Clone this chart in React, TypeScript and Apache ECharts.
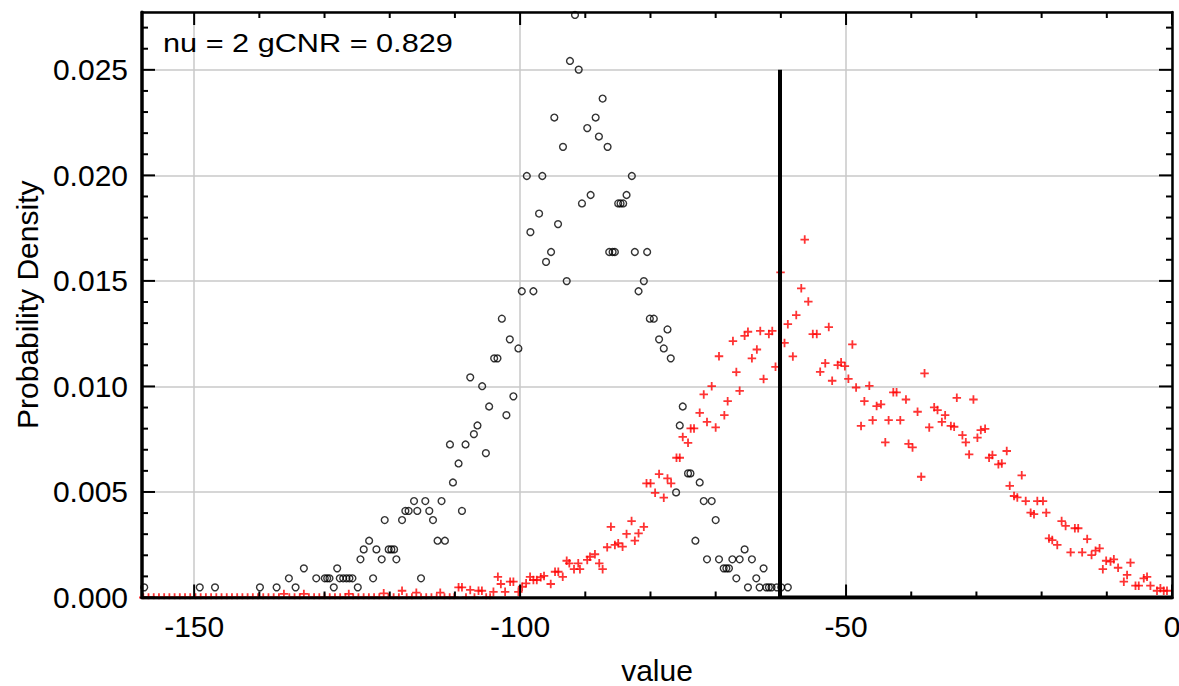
import React, { useEffect, useRef } from "react";
import * as echarts from "echarts";

// ---- axis ranges & ticks ----
const xMin = -158;
const xMax = 0;
const yMin = 0;
const yMax = 0.02774;
const xMajor = [-150, -100, -50, 0];
const xMinor = [-150, -140, -130, -120, -110, -100, -90, -80, -70, -60, -50, -40, -30, -20, -10, 0];
const yMajor = [0, 0.005, 0.01, 0.015, 0.02, 0.025];
const yMinor = [0, 0.001, 0.002, 0.003, 0.004, 0.005, 0.006, 0.007, 0.008, 0.009, 0.01, 0.011, 0.012, 0.013, 0.014, 0.015, 0.016, 0.017, 0.018, 0.019, 0.02, 0.021, 0.022, 0.023, 0.024, 0.025, 0.026, 0.027];

const annotation = "nu = 2 gCNR = 0.829";
const xName = "value";
const yName = "Probability Density";

// threshold line
const thresholdX = -60.13;
const thresholdTop = 0.025;

// ---- black circles (first distribution) ----
const blackX = [
  -157.66, -149.14, -146.8, -139.91, -137.35, -135.47, -134.44, -133.17, -131.27, -129.96,
  -129.59, -129.24, -128.58, -128.06, -127.66, -127.14, -126.63, -126.18, -125.72, -124.9,
  -124.49, -123.99, -123.16, -122.55, -122.04, -121.23, -120.77, -120.16, -119.75, -119.33,
  -118.98, -118.11, -117.6, -117.1, -116.27, -115.77, -115.2, -114.54, -113.93, -113.36,
  -112.66, -112.05, -111.53, -110.76, -110.3, -109.44, -108.92, -108.37, -107.65, -107.09,
  -106.54, -105.82, -105.25, -104.75, -103.98, -103.47, -102.8, -102.1, -101.58, -101.03,
  -100.26, -99.74, -98.97, -98.42, -97.96, -97.09, -96.59, -96.02, -95.25, -94.75,
  -94.18, -93.42, -92.85, -92.35, -91.58, -91.01, -90.51, -89.7, -89.18, -88.41,
  -87.91, -87.34, -86.58, -86.33, -85.81, -85.46, -84.95, -84.59, -84.19, -83.67,
  -82.86, -82.4, -81.83, -81.02, -80.51, -80.1, -79.49, -78.68, -77.96, -77.39,
  -76.89, -76.07, -75.51, -75.05, -74.24, -73.87, -73.11, -72.45, -71.83, -71.33,
  -70.61, -70.0, -69.49, -68.77, -68.36, -67.96, -67.44, -66.83, -66.32, -65.56,
  -65.05, -64.44, -63.77, -63.26, -62.65, -62.24, -61.84, -61.43, -60.62, -59.94,
  -58.93,
];
const blackY = [
  0.00048, 0.00048, 0.00048, 0.00048, 0.00048, 0.00091, 0.00048, 0.00138, 0.00091, 0.00091,
  0.00091, 0.00091, 0.00048, 0.00138, 0.00091, 0.00091, 0.00091, 0.00091, 0.00091, 0.00048,
  0.00181, 0.00228, 0.00269, 0.00091, 0.00228, 0.00181, 0.00367, 0.00228, 0.00228, 0.00228,
  0.00181, 0.00367, 0.0041, 0.0041, 0.00457, 0.0041, 0.00091, 0.00457, 0.0041, 0.00367,
  0.00269, 0.00457, 0.00269, 0.00725, 0.00545, 0.00635, 0.0041, 0.00725, 0.01043, 0.00774,
  0.00815, 0.01001, 0.00684, 0.00905, 0.01133, 0.01133, 0.01321, 0.00864, 0.01223, 0.00953,
  0.0118, 0.01451, 0.01997, 0.01731, 0.01451, 0.01819, 0.01997, 0.0159, 0.01637, 0.02274,
  0.01769, 0.02135, 0.01499, 0.02542, 0.0276, 0.02501, 0.01867, 0.02224, 0.01907, 0.02274,
  0.02184, 0.02364, 0.02135, 0.01637, 0.01637, 0.01637, 0.01867, 0.01867, 0.01867, 0.01907,
  0.01997, 0.01637, 0.01451, 0.01499, 0.01637, 0.01321, 0.01321, 0.01223, 0.0118, 0.0127,
  0.01133, 0.00498, 0.00815, 0.00905, 0.00588, 0.00588, 0.00269, 0.00545, 0.00457, 0.00181,
  0.00457, 0.00367, 0.00181, 0.00138, 0.00138, 0.00138, 0.00181, 0.00091, 0.00181, 0.00228,
  0.00048, 0.00181, 0.00091, 0.00048, 0.00138, 0.00048, 0.00048, 0.00048, 0.00048, 0.00048,
  0.00048,
];

// ---- red crosses (second distribution) ----
const redX = [
  -157.8, -157.0, -156.2, -155.4, -154.6, -153.8, -153.0, -152.2, -151.4, -150.6,
  -149.8, -149.0, -148.2, -147.4, -146.6, -145.8, -145.0, -144.2, -143.4, -142.6,
  -141.8, -141.0, -140.2, -139.4, -138.6, -137.8, -137.0, -136.23, -135.4, -134.6,
  -133.8, -133.17, -132.4, -131.6, -130.8, -130.0, -129.2, -128.4, -127.6, -126.8,
  -126.28, -125.6, -124.8, -124.0, -123.2, -122.4, -121.6, -120.92, -120.2, -119.4,
  -118.6, -118.11, -117.4, -116.6, -115.92, -115.2, -114.4, -113.6, -112.8, -112.25,
  -111.6, -110.8, -110.1, -109.44, -108.92, -108.3, -107.65, -107.0, -106.38, -105.86,
  -105.2, -104.6, -104.09, -103.41, -102.95, -102.3, -101.53, -101.03, -100.26, -99.69,
  -99.08, -98.47, -97.96, -97.44, -96.83, -96.33, -95.3, -94.64, -94.14, -93.46,
  -92.85, -92.45, -91.73, -91.08, -90.82, -89.7, -89.28, -88.52, -87.86, -87.34,
  -86.64, -86.07, -85.46, -84.95, -84.28, -83.67, -82.9, -82.4, -81.83, -81.02,
  -80.61, -79.99, -79.29, -78.68, -77.96, -77.39, -76.84, -76.01, -75.51, -75.05,
  -74.24, -73.83, -73.32, -72.45, -71.83, -71.33, -70.61, -70.0, -69.49, -68.67,
  -68.16, -67.35, -66.83, -66.32, -65.56, -65.05, -64.44, -63.68, -63.16, -62.65,
  -61.84, -61.32, -60.82, -60.05, -59.44, -58.93, -58.16, -57.64, -56.87, -56.34,
  -55.79, -55.1, -54.49, -53.97, -53.19, -52.65, -52.13, -51.28, -50.76, -50.18,
  -49.64, -49.03, -48.46, -47.7, -47.19, -46.43, -45.92, -45.31, -44.64, -43.98,
  -43.47, -42.75, -42.25, -41.68, -40.81, -40.41, -39.8, -39.03, -38.47, -37.96,
  -37.24, -36.48, -35.97, -35.3, -34.8, -33.92, -33.42, -33.01, -32.15, -31.63,
  -31.12, -30.46, -29.85, -29.33, -28.67, -28.06, -27.55, -26.63, -26.11, -25.35,
  -24.89, -24.23, -23.73, -23.05, -22.44, -21.68, -21.17, -20.66, -19.79, -19.29,
  -18.87, -18.37, -17.6, -16.93, -16.32, -15.55, -14.9, -14.39, -13.78, -13.01,
  -12.34, -11.73, -11.11, -10.61, -10.1, -9.43, -8.92, -8.27, -7.39, -6.89,
  -6.37, -5.6, -5.1, -4.33, -3.83, -3.31, -2.3, -1.78, -1.27, -0.77,
];
const redY = [
  0, 0, 0, 0, 0, 0, 0, 0, 0, 0,
  0, 0, 0, 0, 0, 0, 0, 0, 0, 0,
  0, 0, 0, 0, 0, 0, 0, 0.00017, 0, 0,
  0, 0.00017, 0, 0, 0, 0, 0, 0, 0, 0,
  0.00017, 0, 0, 0, 0, 0, 0, 0.0002, 0, 0,
  0, 0.00032, 0, 0, 0.00023, 0, 0, 0, 0, 0.00023,
  0, 0, 0, 0.00048, 0.00048, 0, 0.00036, 0, 0.00032, 0.00032,
  0, 0, 0.00027, 0.00098, 0.00064, 0.00027, 0.00075, 0.00075, 0.00027, 0.00051,
  0.00067, 0.00098, 0.00083, 0.00083, 0.00096, 0.00102, 0.00064, 0.00122, 0.00122, 0.00098,
  0.00174, 0.00162, 0.00134, 0.00162, 0.00134, 0.00178, 0.00193, 0.00205, 0.00162, 0.00134,
  0.00238, 0.00335, 0.00249, 0.00257, 0.00241, 0.00301, 0.00362, 0.00269, 0.00304, 0.00335,
  0.00541, 0.00541, 0.00496, 0.00585, 0.00473, 0.00564, 0.00541, 0.00662, 0.00662, 0.00761,
  0.00733, 0.00801, 0.00801, 0.00875, 0.00962, 0.00832, 0.01001, 0.00806, 0.01143, 0.00864,
  0.0093, 0.01215, 0.01068, 0.00979, 0.0124, 0.01259, 0.01133, 0.01175, 0.01263, 0.01035,
  0.01248, 0.01263, 0.01093, 0.0154, 0.01206, 0.01295, 0.01142, 0.01338, 0.01465, 0.01696,
  0.01402, 0.01248, 0.01248, 0.01069, 0.0111, 0.01281, 0.01027, 0.01101, 0.01114, 0.01096,
  0.01036, 0.01199, 0.00995, 0.00813, 0.0093, 0.01003, 0.0084, 0.00907, 0.00915, 0.00735,
  0.0084, 0.00972, 0.00972, 0.0084, 0.00938, 0.00728, 0.00711, 0.0088, 0.00572, 0.01062,
  0.00806, 0.00901, 0.00888, 0.00832, 0.00864, 0.00813, 0.00809, 0.00946, 0.00769, 0.00735,
  0.00678, 0.00938, 0.00757, 0.00793, 0.00799, 0.00662, 0.00675, 0.00631, 0.00635, 0.00694,
  0.00529, 0.00481, 0.00474, 0.00579, 0.00457, 0.00402, 0.00395, 0.00457, 0.00457, 0.00402,
  0.0028, 0.00272, 0.00249, 0.00362, 0.00339, 0.00214, 0.00328, 0.00328, 0.00214, 0.00277,
  0.00201, 0.00222, 0.00233, 0.00134, 0.00174, 0.0017, 0.00181, 0.00141, 0.00075, 0.00107,
  0.00165, 0.00056, 0.00056, 0.00091, 0.00098, 0.00056, 0.00032, 0.00044, 0.00032, 0.00032,
];

const FONT = "'Liberation Sans', Arial, Helvetica, sans-serif";
const PLUS = "path://M5,0L5,10M0,5L10,5";
const MAJOR_LEN = 13;
const MINOR_LEN = 6;

function isMajor(list: number[], v: number) {
  return list.some((m) => Math.abs(m - v) < 1e-9);
}

export default function App() {
  const ref = useRef<HTMLDivElement>(null);

  useEffect(() => {
    if (!ref.current) return;
    const chart = echarts.init(ref.current, null, { renderer: "svg" });

    const black = blackX.map((x, i) => [x, blackY[i]]);
    const red = redX.map((x, i) => [x, redY[i]]);

    const baseX = { type: "value" as const, min: xMin, max: xMax, splitNumber: 3 };
    const baseY = { type: "value" as const, min: yMin, max: yMax, splitNumber: 5 };
    const frameLine = (w: number) => ({ show: true, onZero: false, lineStyle: { color: "#000", width: w } });

    const tickLine = (x1: number, y1: number, x2: number, y2: number) => ({
      type: "line",
      shape: { x1, y1, x2, y2 },
      style: { stroke: "#000", lineWidth: 2 },
    });

    const option: any = {
      animation: false,
      backgroundColor: "#fff",
      grid: { left: 142, right: 7, top: 12, bottom: 88.5, containLabel: false, outerBoundsMode: "none" },
      xAxis: [
        {
          ...baseX,
          position: "bottom",
          name: xName,
          nameLocation: "middle",
          nameGap: 61,
          nameTextStyle: { fontSize: 30, lineHeight: 24, color: "#000", fontFamily: FONT },
          axisLine: { show: false, onZero: false },
          axisTick: { show: false },
          axisLabel: {
            show: true, margin: 14, fontSize: 30, color: "#000", fontFamily: FONT,
            customValues: xMajor, formatter: (v: number) => String(Math.round(v)),
          },
          splitLine: { show: true, lineStyle: { color: "#c8c8c8", width: 1.5 } },
          z: 1,
        },
        { ...baseX, position: "bottom", axisLine: frameLine(3.5), axisTick: { show: false }, axisLabel: { show: false }, splitLine: { show: false }, z: 8 },
        { ...baseX, position: "top", axisLine: frameLine(2.5), axisTick: { show: false }, axisLabel: { show: false }, splitLine: { show: false }, z: 8 },
      ],
      yAxis: [
        {
          ...baseY,
          position: "left",
          name: yName,
          nameLocation: "middle",
          nameGap: 98,
          nameTextStyle: { fontSize: 30, color: "#000", fontFamily: FONT },
          axisLine: { show: false, onZero: false },
          axisTick: { show: false },
          axisLabel: {
            show: true, margin: 14, fontSize: 30, color: "#000", fontFamily: FONT,
            customValues: yMajor, formatter: (v: number) => v.toFixed(3),
          },
          splitLine: { show: true, lineStyle: { color: "#c8c8c8", width: 1.5 } },
          z: 1,
        },
        { ...baseY, position: "left", axisLine: frameLine(3.5), axisTick: { show: false }, axisLabel: { show: false }, splitLine: { show: false }, z: 8 },
        { ...baseY, position: "right", axisLine: frameLine(2.5), axisTick: { show: false }, axisLabel: { show: false }, splitLine: { show: false }, z: 8 },
      ],
      graphic: [
        { type: "rect", shape: { x: 130, y: 599.4, width: 1049, height: 7 }, style: { fill: "#fff" }, z: 50, silent: true },
        { type: "rect", shape: { x: 130, y: 0, width: 1049, height: 10.6 }, style: { fill: "#fff" }, z: 50, silent: true },
        {
          type: "text", x: 163, y: 43, scaleX: 1.18, z: 100,
          style: { text: annotation, fontSize: 26, fill: "#000", fontFamily: FONT, verticalAlign: "middle", align: "left" },
        },
      ],
      series: [
        {
          type: "scatter",
          data: black,
          symbol: "circle",
          symbolSize: 6.8,
          itemStyle: { color: "transparent", borderColor: "#000", borderWidth: 1.4 },
          z: 4,
        },
        {
          type: "scatter",
          data: red,
          symbol: PLUS,
          symbolSize: 8.5,
          itemStyle: { color: "transparent", borderColor: "#ff0000", borderWidth: 1.8 },
          z: 5,
        },
        {
          type: "line",
          data: [[thresholdX, thresholdTop], [thresholdX, 0], [xMax, 0]],
          symbol: "none",
          lineStyle: { color: "#000", width: 4 },
          z: 6,
        },
        {
          // x-axis tick marks (bottom and top), inward
          type: "custom",
          silent: true,
          clip: false,
          z: 9,
          data: xMinor.map((v) => [v, yMin]),
          renderItem: (params: any, api: any) => {
            const v = api.value(0);
            const b = api.coord([v, yMin]);
            const t = api.coord([v, yMax]);
            const len = isMajor(xMajor, v) ? MAJOR_LEN : MINOR_LEN;
            return {
              type: "group",
              children: [tickLine(b[0], b[1], b[0], b[1] - len), tickLine(t[0], t[1], t[0], t[1] + len)],
            };
          },
        },
        {
          // y-axis tick marks (left and right), inward
          type: "custom",
          silent: true,
          clip: false,
          z: 9,
          data: yMinor.map((v) => [xMin, v]),
          renderItem: (params: any, api: any) => {
            const v = api.value(1);
            const l = api.coord([xMin, v]);
            const r = api.coord([xMax, v]);
            const len = isMajor(yMajor, v) ? MAJOR_LEN : MINOR_LEN;
            return {
              type: "group",
              children: [tickLine(l[0], l[1], l[0] + len, l[1]), tickLine(r[0], r[1], r[0] - len, r[1])],
            };
          },
        },
      ],
    };

    chart.setOption(option);
    return () => chart.dispose();
  }, []);

  return (
    <div
      ref={ref}
      style={{ position: "fixed", left: 0, top: 0, width: 1179, height: 686, background: "#fff" }}
    />
  );
}
